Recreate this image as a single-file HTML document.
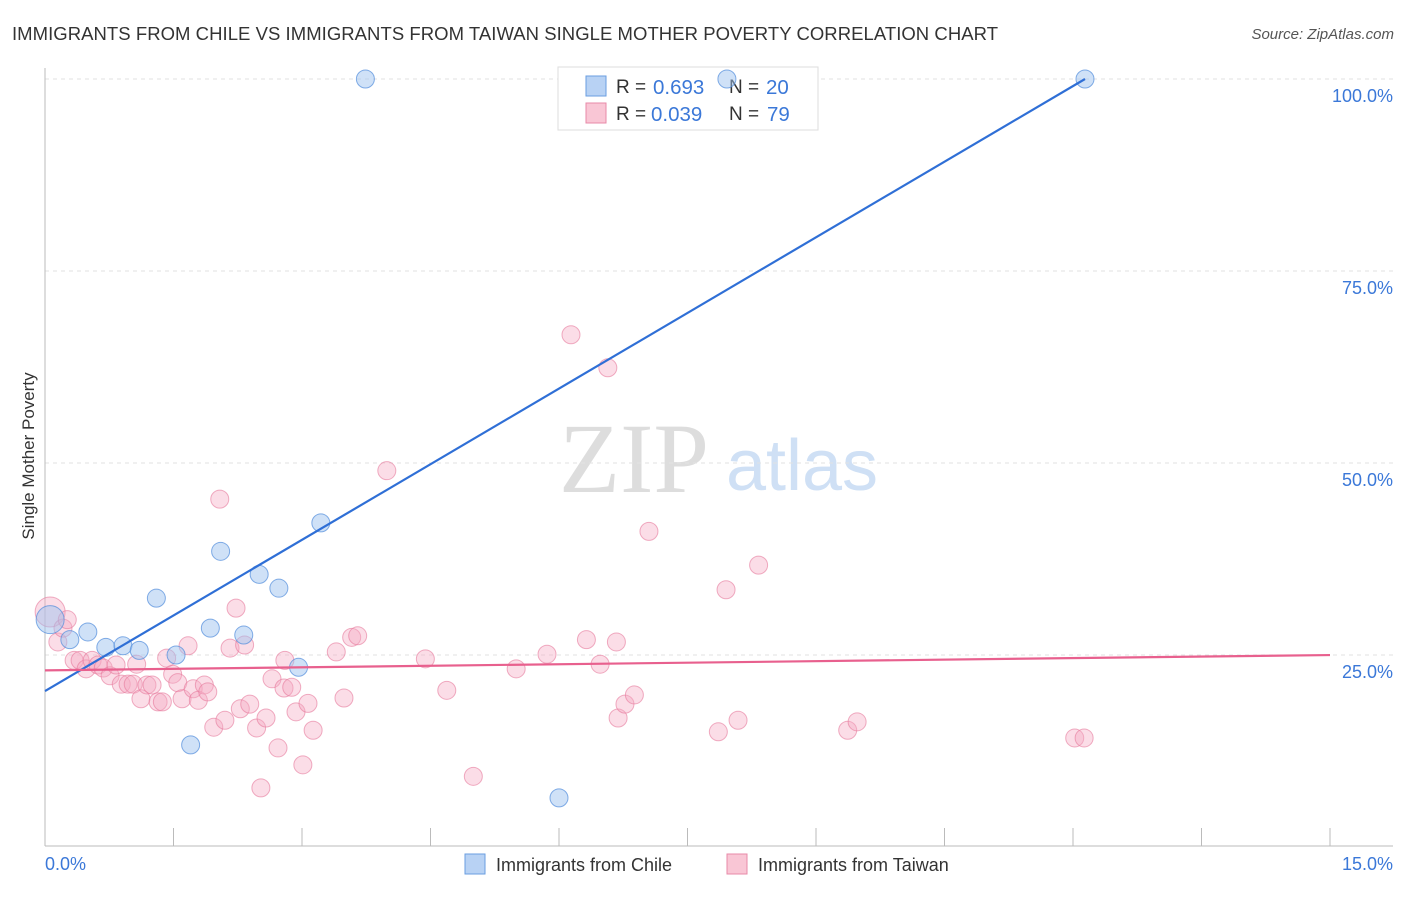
<!DOCTYPE html>
<html><head><meta charset="utf-8"><style>
body{margin:0;background:#fff;font-family:"Liberation Sans",sans-serif}
#wrap{position:relative;width:1406px;height:892px}
</style></head><body>
<div id="wrap">
<svg id="svg" width="1406" height="892" xmlns="http://www.w3.org/2000/svg">
<text x="12" y="40" font-size="18.5" fill="#333" textLength="986">IMMIGRANTS FROM CHILE VS IMMIGRANTS FROM TAIWAN SINGLE MOTHER POVERTY CORRELATION CHART</text>
<text x="1394" y="39" font-size="15" fill="#555" font-style="italic" text-anchor="end">Source: ZipAtlas.com</text>
<text x="634" y="492" font-size="100" fill="#ddd" font-family="Liberation Serif,serif" text-anchor="middle">ZIP</text>
<text x="802" y="490" font-size="72" fill="#cfe0f5" text-anchor="middle">atlas</text>
<text transform="translate(34,456) rotate(-90)" font-size="17" fill="#333" text-anchor="middle">Single Mother Poverty</text>
<g id="grid"></g><g id="axes"></g>
<g>
<rect x="558" y="67" width="260" height="63" fill="#fff" stroke="#ddd"/>
<rect x="586" y="76" width="20" height="20" fill="#b8d2f4" stroke="#6a9ee0"/>
<rect x="586" y="103" width="20" height="20" fill="#f9c6d5" stroke="#e88aa8"/>
<text x="616" y="93" font-size="19" fill="#333">R =</text>
<text x="653" y="94" font-size="20.5" fill="#3b78d8">0.693</text>
<text x="729" y="93" font-size="19" fill="#333">N =</text>
<text x="766" y="94" font-size="20.5" fill="#3b78d8">20</text>
<text x="616" y="120" font-size="19" fill="#333">R =</text>
<text x="651" y="121" font-size="20.5" fill="#3b78d8">0.039</text>
<text x="729" y="120" font-size="19" fill="#333">N =</text>
<text x="767" y="121" font-size="20.5" fill="#3b78d8">79</text>
</g>
<g id="pts"></g><g id="lines"></g>
<g>
<rect x="465" y="854" width="20" height="20" fill="#b8d2f4" stroke="#6a9ee0"/>
<text x="496" y="871" font-size="18" fill="#333">Immigrants from Chile</text>
<rect x="727" y="854" width="20" height="20" fill="#f9c6d5" stroke="#e88aa8"/>
<text x="758" y="871" font-size="18" fill="#333">Immigrants from Taiwan</text>
</g>
</svg></div>
<script>
const yTicks=[25,50,75,100];
const yTickLabels=["25.0%","50.0%","75.0%","100.0%"];
const xTicks=[0,1.5,3,4.5,6,7.5,9,10.5,12,13.5,15];
const xEndLabels=["0.0%","15.0%"];
const chileX=[0.06,0.29,0.5,0.71,0.91,1.1,1.3,1.53,1.7,1.93,2.05,2.32,2.5,2.73,2.96,3.22,3.74,7.96,12.14,6.0];
const chileY=[29.6,27.0,28.0,26.0,26.2,25.6,32.4,25.0,13.3,28.5,38.5,27.6,35.5,33.7,23.4,42.2,100,100,100,6.4];
const taiwanX=[0.06,0.15,0.21,0.26,0.34,0.41,0.48,0.55,0.62,0.68,0.76,0.83,0.89,0.97,1.03,1.07,1.12,1.19,1.25,1.32,1.37,1.42,1.49,1.55,1.6,1.67,1.73,1.79,1.86,1.9,1.97,2.04,2.1,2.16,2.23,2.28,2.33,2.39,2.47,2.58,2.65,2.72,2.8,2.79,2.88,2.93,3.01,3.07,3.13,3.4,3.49,3.58,3.65,3.99,4.44,4.69,5.0,5.5,5.86,6.14,6.32,6.48,6.57,6.67,6.69,6.77,6.88,7.05,7.86,7.95,8.09,8.33,9.37,9.48,12.02,12.13,2.52];
const taiwanY=[30.6,26.7,28.5,29.6,24.3,24.3,23.2,24.3,23.7,23.3,22.3,23.7,21.2,21.2,21.2,23.8,19.3,21.1,21.1,18.9,18.9,24.6,22.5,21.4,19.3,26.2,20.6,19.1,21.1,20.2,15.6,45.3,16.5,25.9,31.1,18.0,26.3,18.6,15.5,16.8,21.9,12.9,24.3,20.7,20.8,17.6,10.7,18.7,15.2,25.4,19.4,27.3,27.5,49.0,24.5,20.4,9.2,23.2,25.1,66.7,27.0,23.8,62.4,26.7,16.8,18.6,19.8,41.1,15.0,33.5,16.5,36.7,15.2,16.3,14.2,14.2,7.7];
const chileFit=[20.3,6.565];
const taiwanFit=[23.0,0.133];
const NS="http://www.w3.org/2000/svg";
const X=v=>45+v*(1285/15), Y=v=>847-v*7.68;
function mk(t,a,p){const e=document.createElementNS(NS,t);for(const k in a)e.setAttribute(k,a[k]);p.appendChild(e);return e;}
const grid=document.getElementById('grid'),axes=document.getElementById('axes'),pts=document.getElementById('pts'),lines=document.getElementById('lines');
yTicks.forEach((t,i)=>{
 const l=mk('line',{x1:45,x2:1393,y1:Y(t),y2:Y(t),stroke:'#e2e2e2','stroke-dasharray':'4,4'},grid);
 
 
 const tx=mk('text',{x:1393,y:Y(t)+23,'font-size':18,fill:'#3b78d8','text-anchor':'end'},axes);
 tx.textContent=yTickLabels[i];
 
 
});
let ax=mk('line',{x1:45,x2:45,y1:68,y2:846,stroke:'#bbb'},axes);


ax=mk('line',{x1:45,x2:1393,y1:846,y2:846,stroke:'#bbb'},axes);


xTicks.forEach(t=>{const l=mk('line',{x1:X(t),x2:X(t),y1:828,y2:846,stroke:'#bbb'},axes);
 
 });
[[0,45,'start'],[15,1393,'end']].forEach((d,i)=>{const tx=mk('text',{x:d[1],y:870,'font-size':18,fill:'#3b78d8','text-anchor':d[2]},axes);tx.textContent=xEndLabels[i];
 
 });
taiwanX.forEach((v,i)=>{const c=mk('circle',{cx:X(v),cy:Y(taiwanY[i]),r:i==0?15:9,fill:'rgba(245,170,195,0.4)',stroke:'rgba(230,120,155,0.6)','stroke-width':1},pts);
 
 });
chileX.forEach((v,i)=>{const c=mk('circle',{cx:X(v),cy:Y(chileY[i]),r:i==0?14:9,fill:'rgba(160,195,240,0.5)',stroke:'rgba(80,140,220,0.7)','stroke-width':1},pts);
 
 });
const cEnd=(100-chileFit[0])/chileFit[1];
let ln=mk('line',{x1:X(0),y1:Y(chileFit[0]),x2:X(cEnd),y2:Y(100),stroke:'#2f6fd6','stroke-width':2.2},lines);


ln=mk('line',{x1:X(0),y1:Y(taiwanFit[0]),x2:X(15),y2:Y(taiwanFit[0]+15*taiwanFit[1]),stroke:'#e8608e','stroke-width':2.2},lines);


</script></body></html>
